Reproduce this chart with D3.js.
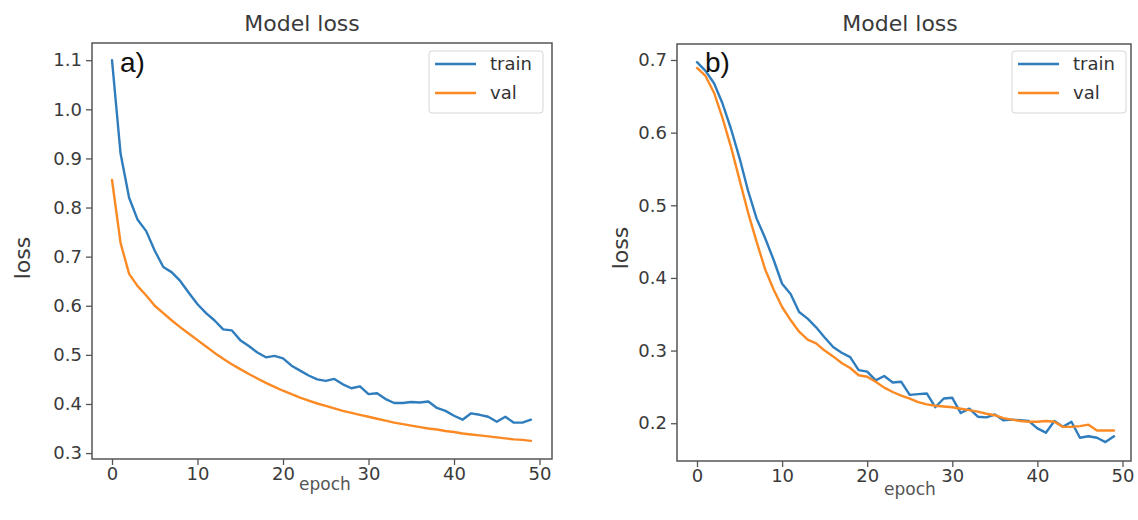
<!DOCTYPE html>
<html>
<head>
<meta charset="utf-8">
<script src="https://cdn.jsdelivr.net/npm/d3@7"></script>
<style>
  html, body { margin: 0; padding: 0; background: #fff; }
  svg { display: block; }
</style>
</head>
<body>
<svg id="chart" width="1138" height="520"></svg>
<script>
// ---------- data ----------
const epochs = d3.range(0, 50);
const xTicks = [0, 10, 20, 30, 40, 50];
const yTicksA = [0.3, 0.4, 0.5, 0.6, 0.7, 0.8, 0.9, 1.0, 1.1];
const yTicksB = [0.2, 0.3, 0.4, 0.5, 0.6, 0.7];
const seriesNames = ["train", "val"];
const panelLabels = ["a)", "b)"];

const trainA = [1.10, 0.91, 0.82, 0.775, 0.752, 0.712, 0.679, 0.668, 0.650, 0.626,
  0.603, 0.585, 0.570, 0.552, 0.550, 0.530, 0.518, 0.505, 0.495, 0.498,
  0.493, 0.478, 0.468, 0.458, 0.450, 0.447, 0.451, 0.440, 0.432, 0.436,
  0.420, 0.422, 0.410, 0.402, 0.402, 0.404, 0.403, 0.405, 0.392, 0.386,
  0.376, 0.368, 0.381, 0.378, 0.374, 0.364, 0.374, 0.362, 0.362, 0.368];
const valA = [0.856, 0.728, 0.665, 0.640, 0.621, 0.600, 0.585, 0.570, 0.556, 0.543,
  0.530, 0.517, 0.504, 0.492, 0.481, 0.471, 0.461, 0.452, 0.443, 0.435,
  0.427, 0.420, 0.413, 0.407, 0.401, 0.396, 0.391, 0.386, 0.382, 0.378,
  0.374, 0.370, 0.366, 0.362, 0.359, 0.356, 0.353, 0.350, 0.348, 0.345,
  0.343, 0.340, 0.338, 0.336, 0.334, 0.332, 0.330, 0.328, 0.327, 0.325];
const trainB = [0.697, 0.685, 0.668, 0.640, 0.605, 0.565, 0.520, 0.482, 0.455, 0.425,
  0.392, 0.378, 0.353, 0.344, 0.332, 0.318, 0.305, 0.297, 0.291, 0.273,
  0.271, 0.259, 0.265, 0.256, 0.257, 0.239, 0.240, 0.241, 0.222, 0.234,
  0.235, 0.214, 0.220, 0.209, 0.208, 0.212, 0.204, 0.205, 0.204, 0.203,
  0.193, 0.187, 0.203, 0.195, 0.202, 0.180, 0.182, 0.180, 0.174, 0.182];
const valB = [0.689, 0.678, 0.655, 0.620, 0.580, 0.535, 0.490, 0.450, 0.412, 0.384,
  0.360, 0.342, 0.326, 0.315, 0.310, 0.300, 0.292, 0.283, 0.276, 0.266,
  0.264, 0.257, 0.249, 0.243, 0.238, 0.234, 0.229, 0.226, 0.224, 0.223,
  0.222, 0.220, 0.218, 0.216, 0.213, 0.211, 0.207, 0.205, 0.203, 0.202,
  0.202, 0.203, 0.202, 0.195, 0.195, 0.196, 0.198, 0.190, 0.190, 0.190];

// ---------- layout ----------
const colors = ["#2f7dbd", "#fb8a24"];
const font = "'DejaVu Sans', sans-serif";
const svg = d3.select("#chart");

const panels = [
  { train: trainA, val: valA, yTicks: yTicksA, yFmt: d3.format(".1f"),
    left: 92, right: 552, top: 43, bottom: 459,
    xDom: [-2.34, 51.46], yDom: [0.288, 1.135],
    titleX: 302, yLabelX: 22, yLabelY: 258, xLabelX: 325, xLabelY: 490,
    tagX: 120, legend: { x: 429, y: 51 } },
  { train: trainB, val: valB, yTicks: yTicksB, yFmt: d3.format(".1f"),
    left: 677, right: 1131, top: 44, bottom: 461,
    xDom: [-2.35, 51.0], yDom: [0.148, 0.722],
    titleX: 900, yLabelX: 620, yLabelY: 248, xLabelX: 910, xLabelY: 495,
    tagX: 705, legend: { x: 1012, y: 51 } }
];

panels.forEach((p, i) => {
  const g = svg.append("g");
  const x = d3.scaleLinear().domain(p.xDom).range([p.left, p.right]);
  const y = d3.scaleLinear().domain(p.yDom).range([p.bottom, p.top]);

  // axes
  const xAxis = d3.axisBottom(x).tickValues(xTicks).tickSize(6).tickPadding(2).tickFormat(d3.format("d"));
  const yAxis = d3.axisLeft(y).tickValues(p.yTicks).tickSize(6).tickPadding(4).tickFormat(p.yFmt);

  const gx = g.append("g").attr("transform", `translate(0,${p.bottom})`).call(xAxis);
  const gy = g.append("g").attr("transform", `translate(${p.left},0)`).call(yAxis);
  [gx, gy].forEach(ax => {
    ax.select(".domain").remove();
    ax.selectAll(".tick line").attr("stroke", "#555").attr("stroke-width", 1.3);
    ax.selectAll(".tick text").attr("fill", "#3a3a3a").style("font-family", font).style("font-size", "18px");
  });

  // lines
  [p.train, p.val].forEach((vals, k) => {
    const line = d3.line().x((d, j) => x(epochs[j])).y(d => y(d));
    g.append("path").datum(vals)
      .attr("fill", "none").attr("stroke", colors[k]).attr("stroke-width", 2.4)
      .attr("stroke-linejoin", "round").attr("stroke-linecap", "round")
      .attr("d", line);
  });

  // frame
  g.append("rect").attr("x", p.left).attr("y", p.top)
    .attr("width", p.right - p.left).attr("height", p.bottom - p.top)
    .attr("fill", "none").attr("stroke", "#555").attr("stroke-width", 1.5);

  // title
  g.append("text").attr("x", p.titleX).attr("y", 31).attr("text-anchor", "middle")
    .attr("fill", "#3a3a3a").style("font-family", font).style("font-size", "22px").text("Model loss");
  // y label
  g.append("text").attr("transform", `translate(${p.yLabelX},${p.yLabelY}) rotate(-90)`)
    .attr("text-anchor", "middle").attr("dy", "0.35em")
    .attr("fill", "#3a3a3a").style("font-family", font).style("font-size", "22px").text("loss");
  // x label
  g.append("text").attr("x", p.xLabelX).attr("y", p.xLabelY).attr("text-anchor", "middle")
    .attr("fill", "#555").style("font-family", font).style("font-size", "17px").text("epoch");
  // panel tag
  g.append("text").attr("x", p.tagX).attr("y", 72)
    .attr("fill", "#111").style("font-family", "'Liberation Sans', Arial, sans-serif").style("font-size", "28px")
    .text(panelLabels[i]);

  // legend
  const L = p.legend;
  const lg = g.append("g").attr("transform", `translate(${L.x},${L.y})`);
  lg.append("rect").attr("width", 114).attr("height", 62).attr("rx", 3)
    .attr("fill", "#fff").attr("fill-opacity", 0.85).attr("stroke", "#d6d6d6").attr("stroke-width", 1);
  seriesNames.forEach((name, k) => {
    const yy = 13 + k * 29;
    lg.append("line").attr("x1", 6).attr("x2", 47).attr("y1", yy).attr("y2", yy)
      .attr("stroke", colors[k]).attr("stroke-width", 2.4);
    lg.append("text").attr("x", 61).attr("y", yy).attr("dy", "0.35em")
      .attr("fill", "#333").style("font-family", font).style("font-size", "18px").text(name);
  });
});
</script>
</body>
</html>
